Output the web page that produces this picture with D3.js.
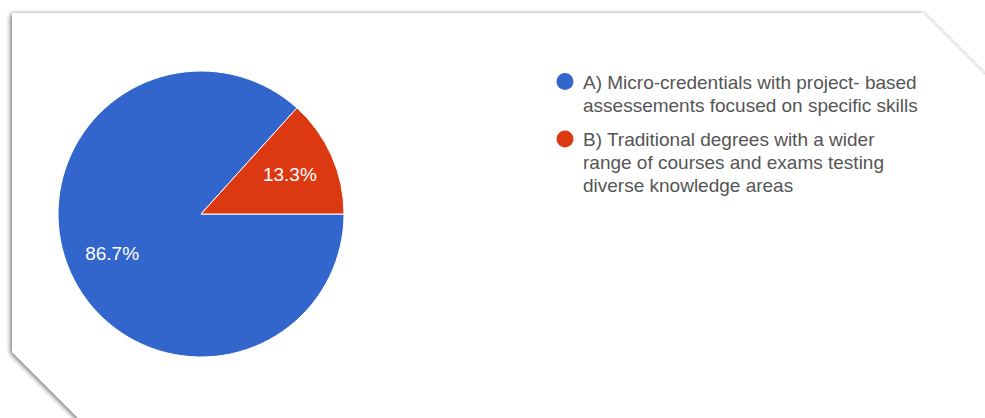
<!DOCTYPE html>
<html>
<head>
<meta charset="utf-8">
<script src="https://cdn.jsdelivr.net/npm/d3@7"></script>
<style>
  html, body { margin: 0; padding: 0; background: #ffffff; }
  svg { display: block; }
</style>
</head>
<body>
<svg id="chart" width="985" height="418"></svg>
<script>
// Survey answers and their shares (percent)
const categories = ["A", "B"];
const values = [86.7, 13.3];
const legendLines = [
  ["A) Micro-credentials with project- based", "assessements focused on specific skills"],
  ["B) Traditional degrees with a wider", "range of courses and exams testing", "diverse knowledge areas"]
];
const colors = ["#3366cc", "#dc3912"];

const svg = d3.select("#chart");
const FONT = "Liberation Sans, Arial, sans-serif";

// Card background with clipped corners and a soft shadow
const defs = svg.append("defs");
const f = defs.append("filter").attr("id", "shadow")
  .attr("x", "-5%").attr("y", "-5%").attr("width", "110%").attr("height", "110%");
f.append("feDropShadow").attr("dx", -1).attr("dy", 1)
  .attr("stdDeviation", 2.5).attr("flood-color", "#000").attr("flood-opacity", 0.65);

svg.append("path")
  .attr("d", d3.line()([[12, 13], [923, 13], [1010, 100], [1010, 440], [100, 440], [12, 352]]) + "Z")
  .attr("fill", "#ffffff")
  .attr("filter", "url(#shadow)");

// Pie, first slice starting at three o'clock
const cx = 201, cy = 214, r = 143;
const pie = d3.pie().sort(null).value(d => d)
  .startAngle(Math.PI / 2).endAngle(Math.PI / 2 + 2 * Math.PI);
const arcs = pie(values);
const arc = d3.arc().innerRadius(0).outerRadius(r);
const g = svg.append("g").attr("transform", `translate(${cx},${cy})`);

g.selectAll("path.slice").data(arcs).join("path")
  .attr("class", "slice")
  .attr("d", arc)
  .attr("fill", (d, i) => colors[i])
  .attr("stroke", "#ffffff")
  .attr("stroke-width", 1);

const labelArc = d3.arc().innerRadius(r * 0.68).outerRadius(r * 0.68);
g.selectAll("text.pct").data(arcs).join("text")
  .attr("class", "pct")
  .attr("transform", d => `translate(${labelArc.centroid(d)})`)
  .attr("text-anchor", "middle")
  .attr("dy", "0.36em")
  .attr("fill", "#ffffff")
  .attr("font-family", FONT)
  .attr("font-size", 19)
  .text(d => d.data.toFixed(1) + "%");

// Legend
const lg = svg.append("g").attr("transform", "translate(565,0)");
const itemTop = [88.5, 146];
const lineH = 23;
legendLines.forEach((lines, i) => {
  lg.append("circle").attr("cx", 0).attr("cy", itemTop[i] - 7).attr("r", 8.5)
    .attr("fill", colors[i]);
  const t = lg.append("text")
    .attr("x", 18).attr("y", itemTop[i])
    .attr("fill", "#555555")
    .attr("font-family", FONT)
    .attr("font-size", 19);
  lines.forEach((s, j) => {
    t.append("tspan").attr("x", 18).attr("y", itemTop[i] + j * lineH).text(s);
  });
});
</script>
</body>
</html>
